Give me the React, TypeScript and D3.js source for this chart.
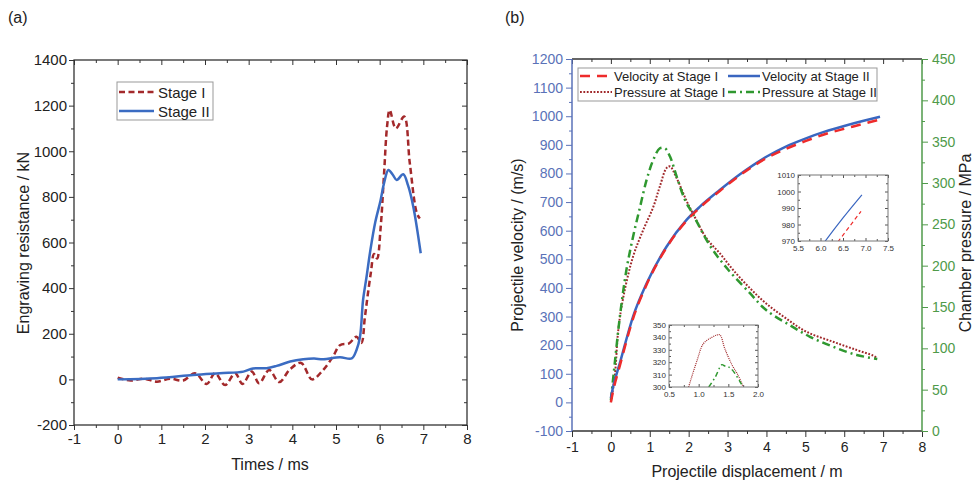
import { useEffect, useRef } from 'react';
import * as d3 from 'd3';

// (a) engraving resistance vs time
const stage1Time = [0, 0.3, 0.6, 0.9, 1.2, 1.5, 1.77, 2.04, 2.23, 2.46, 2.69, 2.86, 3.07, 3.24, 3.47, 3.7, 3.95, 4.2, 4.45, 4.7, 4.93, 5.09, 5.3, 5.47, 5.58, 5.66, 5.72, 5.8, 5.87, 5.94, 6.02, 6.1, 6.17, 6.23, 6.37, 6.56, 6.69, 6.85, 6.92];
const stage1Force = [7, -5, 3, -10, 3, -5, 27, -20, 27, -25, 27, -20, 34, -17, 41, -12, 45, 72, 0, 40, 100, 150, 158, 187, 160, 270, 360, 470, 550, 530, 660, 900, 1110, 1181, 1100, 1152, 948, 729, 705];
const stage2Time = [0, 0.9, 1.73, 2.34, 2.88, 3.1, 3.41, 3.64, 3.95, 4.25, 4.5, 4.71, 5.09, 5.36, 5.47, 5.55, 5.62, 5.7, 5.79, 5.9, 6.02, 6.1, 6.2, 6.3, 6.39, 6.54, 6.65, 6.77, 6.94];
const stage2Force = [0, 5, 19, 27, 34, 48, 49, 59, 78, 88, 91, 88, 97, 92, 129, 187, 348, 450, 570, 690, 784, 860, 918, 897, 874, 899, 850, 757, 553];

// (b) velocity and chamber pressure vs displacement
const vel1Disp = [0, 0.05, 0.23, 0.57, 0.92, 1.43, 1.94, 2.29, 2.8, 3.32, 4.02, 4.5, 5, 5.5, 6, 6.4, 6.9];
const vel1 = [0, 35, 128, 293, 412, 541, 634, 681, 739, 794, 855, 886, 913, 937, 956, 970, 988];
const vel2Disp = [0, 0.05, 0.23, 0.57, 0.92, 1.43, 1.94, 2.29, 2.8, 3.32, 4.02, 4.5, 5, 5.5, 6, 6.5, 6.92];
const vel2 = [15, 50, 137, 300, 416, 544, 637, 684, 742, 797, 860, 894, 922, 946, 966, 984, 998];
const pres1Disp = [0, 0.1, 0.19, 0.32, 0.57, 0.83, 1.09, 1.26, 1.43, 1.52, 1.69, 1.95, 2.1, 2.46, 2.8, 3.14, 3.57, 4.0, 4.51, 5.03, 5.71, 6.32, 6.75, 6.85];
const pres1 = [35, 66, 122, 162, 211, 243, 271, 296, 318, 320, 306, 278, 264, 233, 215, 195, 173, 154, 136, 120, 108, 98, 91, 88];
const pres2Disp = [0, 0.1, 0.23, 0.4, 0.57, 0.75, 0.92, 1.09, 1.26, 1.39, 1.52, 1.69, 1.9, 2.1, 2.55, 3.0, 3.57, 4.0, 4.6, 5.12, 5.71, 6.32, 6.85];
const pres2 = [37, 82, 138, 195, 235, 271, 304, 328, 342, 342, 332, 308, 280, 263, 224, 196, 167, 146, 128, 114, 102, 92, 87];

// pressure inset
const insetPres1Disp = [0.83, 0.97, 1.08, 1.22, 1.31, 1.36, 1.44, 1.56, 1.67, 1.75];
const insetPres1 = [300, 321, 335, 340, 342, 342, 331, 318, 309, 300];
const insetPres2Disp = [1.17, 1.28, 1.39, 1.44, 1.51, 1.58, 1.7, 1.75];
const insetPres2 = [300, 308, 318, 317, 316, 313, 304, 300];

const FONT = '"Liberation Sans", Arial, Helvetica, sans-serif';
const BLUE_AX = '#5a72b8';
const GREEN_AX = '#4f9a4a';

const zip = (xs: number[], ys: number[]) => xs.map((x, i) => [x, ys[i]] as [number, number]);
const steps = (a: number, b: number, s: number) => d3.range(a, b + s / 2, s).map(v => +v.toFixed(4));

type Orient = 'left' | 'right' | 'top' | 'bottom';
type AxisOpts = {
    pos: number; major: number[]; minor?: number[]; out: boolean;
    len?: number; mlen?: number; pad?: number; color?: string; textColor?: string;
    size?: number; fmt?: (d: number) => string; labels?: boolean;
};

function addAxis(g: any, scale: any, orient: Orient, o: AxisOpts) {
    const make = { left: d3.axisLeft, right: d3.axisRight, top: d3.axisTop, bottom: d3.axisBottom }[orient];
    const horiz = orient === 'top' || orient === 'bottom';
    const tr = horiz ? `translate(0,${o.pos})` : `translate(${o.pos},0)`;
    const sign = o.out ? 1 : -1;
    const color = o.color ?? '#333';
    if (o.minor) {
        const m = g.append('g').attr('transform', tr)
            .call(make(scale).tickValues(o.minor).tickSize(sign * (o.mlen ?? 3)).tickFormat(() => ''));
        m.select('.domain').remove();
        m.selectAll('line').attr('stroke', color);
    }
    const fmt = o.labels === false ? () => '' : (o.fmt ?? ((d: number) => String(d)));
    const a = g.append('g').attr('transform', tr)
        .call(make(scale).tickValues(o.major).tickSize(sign * (o.len ?? 5)).tickPadding(o.pad ?? 3).tickFormat(fmt as any));
    a.select('.domain').remove();
    a.selectAll('line').attr('stroke', color);
    a.selectAll('text')
        .attr('fill', o.textColor ?? '#222')
        .style('font-size', `${o.size ?? 14}px`)
        .style('font-family', FONT);
}

const App = () => {
    const svgRef = useRef<SVGSVGElement>(null);

    useEffect(() => {
        const svg = d3.select(svgRef.current);
        svg.selectAll('*').remove();
        const curve = d3.curveCatmullRom.alpha(0.5);

        // panel labels
        svg.append('text').attr('x', 8).attr('y', 23).text('(a)')
            .style('font-family', FONT).style('font-size', '16px').attr('fill', '#222');
        svg.append('text').attr('x', 505).attr('y', 23).text('(b)')
            .style('font-family', FONT).style('font-size', '16px').attr('fill', '#222');

        // ---------- (a) ----------
        const ga = svg.append('g');
        const xa = d3.scaleLinear().domain([-1, 8]).range([74, 467]);
        const ya = d3.scaleLinear().domain([-200, 1400]).range([425, 60]);

        const xMaj = steps(-1, 8, 1), xMin = steps(-0.5, 7.5, 1);
        const yaMaj = steps(-200, 1400, 200), yaMin = steps(-100, 1300, 200);
        addAxis(ga, xa, 'bottom', { pos: 425, major: xMaj, minor: xMin, out: true, pad: 3, size: 15 });
        addAxis(ga, ya, 'left', { pos: 74, major: yaMaj, minor: yaMin, out: true, pad: 2, size: 15 });
        addAxis(ga, xa, 'top', { pos: 60, major: xMaj, minor: xMin, out: false, labels: false });
        addAxis(ga, ya, 'right', { pos: 467, major: yaMaj, minor: yaMin, out: false, labels: false });
        ga.append('rect').attr('x', 74).attr('y', 60).attr('width', 393).attr('height', 365)
            .attr('fill', 'none').attr('stroke', '#333').attr('stroke-width', 1.3);

        const la = d3.line<[number, number]>().x(d => xa(d[0])).y(d => ya(d[1])).curve(curve);
        ga.append('path').attr('d', la(zip(stage1Time, stage1Force)))
            .attr('fill', 'none').attr('stroke', '#a3292b').attr('stroke-width', 2.5).attr('stroke-dasharray', '6,3.5');
        ga.append('path').attr('d', la(zip(stage2Time, stage2Force)))
            .attr('fill', 'none').attr('stroke', '#3b6cc2').attr('stroke-width', 2.5);

        // legend (a)
        ga.append('rect').attr('x', 117).attr('y', 82).attr('width', 96).attr('height', 38)
            .attr('fill', '#fff').attr('stroke', '#999').attr('stroke-width', 1);
        const legA = [
            { label: 'Stage I', color: '#a3292b', dash: '6,3.5', y: 92 },
            { label: 'Stage II', color: '#3b6cc2', dash: null, y: 111 },
        ];
        legA.forEach(d => {
            ga.append('line').attr('x1', 119).attr('x2', 154).attr('y1', d.y).attr('y2', d.y)
                .attr('stroke', d.color).attr('stroke-width', 2.5).attr('stroke-dasharray', d.dash);
            ga.append('text').attr('x', 158).attr('y', d.y + 5.5).text(d.label)
                .style('font-family', FONT).style('font-size', '15px').attr('fill', '#222');
        });

        ga.append('text').attr('transform', 'translate(29,243) rotate(-90)').attr('text-anchor', 'middle')
            .text('Engraving resistance / kN').style('font-family', FONT).style('font-size', '16px').attr('fill', '#222');
        ga.append('text').attr('x', 270).attr('y', 470).attr('text-anchor', 'middle')
            .text('Times / ms').style('font-family', FONT).style('font-size', '16px').attr('fill', '#222');

        // ---------- (b) ----------
        const gb = svg.append('g');
        const xb = d3.scaleLinear().domain([-1, 8]).range([572, 922]);
        const yv = d3.scaleLinear().domain([-100, 1200]).range([431, 59]);
        const yp = d3.scaleLinear().domain([0, 450]).range([431, 59]);

        addAxis(gb, xb, 'bottom', { pos: 431, major: xMaj, minor: xMin, out: true, len: 6, pad: 5, size: 14 });
        addAxis(gb, xb, 'top', { pos: 59, major: xMaj, minor: xMin, out: false, labels: false });
        addAxis(gb, yv, 'left', { pos: 572, major: steps(-100, 1200, 100), minor: steps(-50, 1150, 100), out: true, len: 6, pad: 3, size: 14, color: BLUE_AX, textColor: BLUE_AX });
        addAxis(gb, yp, 'right', { pos: 922, major: steps(0, 450, 50), minor: steps(25, 425, 50), out: true, len: 6, pad: 4, size: 14, color: GREEN_AX, textColor: GREEN_AX });

        gb.append('line').attr('x1', 572).attr('x2', 922).attr('y1', 59).attr('y2', 59).attr('stroke', '#333').attr('stroke-width', 1.3);
        gb.append('line').attr('x1', 572).attr('x2', 922).attr('y1', 431).attr('y2', 431).attr('stroke', '#333').attr('stroke-width', 1.3);
        gb.append('line').attr('x1', 572).attr('x2', 572).attr('y1', 59).attr('y2', 431).attr('stroke', BLUE_AX).attr('stroke-width', 1.5);
        gb.append('line').attr('x1', 922).attr('x2', 922).attr('y1', 59).attr('y2', 431).attr('stroke', GREEN_AX).attr('stroke-width', 1.5);

        const lv = d3.line<[number, number]>().x(d => xb(d[0])).y(d => yv(d[1])).curve(d3.curveMonotoneX);
        const lp = d3.line<[number, number]>().x(d => xb(d[0])).y(d => yp(d[1])).curve(curve);

        const seriesB = [
            { d: lp(zip(pres1Disp, pres1)), color: '#a0282a', w: 2, dash: '1.8,1.6' },
            { d: lp(zip(pres2Disp, pres2)), color: '#2f982f', w: 2.5, dash: '8,4,2,4' },
            { d: lv(zip(vel2Disp, vel2)), color: '#3a66c0', w: 2.5, dash: null },
            { d: lv(zip(vel1Disp, vel1)), color: '#ee2b2b', w: 2.5, dash: '10,7' },
        ];
        seriesB.forEach(s => {
            gb.append('path').attr('d', s.d).attr('fill', 'none').attr('stroke', s.color)
                .attr('stroke-width', s.w).attr('stroke-dasharray', s.dash);
        });

        // legend (b)
        gb.append('rect').attr('x', 578).attr('y', 68).attr('width', 299).attr('height', 33)
            .attr('fill', '#fff').attr('stroke', '#999').attr('stroke-width', 1);
        const legB = [
            { label: 'Velocity at Stage I', color: '#ee2b2b', dash: '10,7', w: 2.5, x: 580, y: 76 },
            { label: 'Velocity at Stage II', color: '#3a66c0', dash: null, w: 2.5, x: 728, y: 76 },
            { label: 'Pressure at Stage I', color: '#a0282a', dash: '1.8,1.6', w: 2, x: 580, y: 92 },
            { label: 'Pressure at Stage II', color: '#2f982f', dash: '8,4,2,4', w: 2.5, x: 728, y: 92 },
        ];
        legB.forEach(d => {
            gb.append('line').attr('x1', d.x).attr('x2', d.x + 32).attr('y1', d.y).attr('y2', d.y)
                .attr('stroke', d.color).attr('stroke-width', d.w).attr('stroke-dasharray', d.dash);
            gb.append('text').attr('x', d.x + 34).attr('y', d.y + 4.5).text(d.label)
                .style('font-family', FONT).style('font-size', '13px').attr('fill', '#222');
        });

        gb.append('text').attr('transform', 'translate(523,245) rotate(-90)').attr('text-anchor', 'middle')
            .text('Projectile velocity / (m/s)').style('font-family', FONT).style('font-size', '16px').attr('fill', '#222');
        gb.append('text').attr('transform', 'translate(971,243) rotate(-90)').attr('text-anchor', 'middle')
            .text('Chamber pressure / MPa').style('font-family', FONT).style('font-size', '16px').attr('fill', '#222');
        gb.append('text').attr('x', 747).attr('y', 477).attr('text-anchor', 'middle')
            .text('Projectile displacement / m').style('font-family', FONT).style('font-size', '16px').attr('fill', '#222');

        // ---------- insets ----------
        const drawInset = (id: string, xs: any, ys: any, xMajor: number[], xMinor: number[], yMajor: number[], yMinor: number[],
            xFmt: (d: number) => string, lines: { d: [number, number][]; color: string; w: number; dash: string | null }[]) => {
            const [x0, x1] = xs.range();
            const [y1, y0] = ys.range();
            const g = gb.append('g');
            g.append('rect').attr('x', x0).attr('y', y0).attr('width', x1 - x0).attr('height', y1 - y0).attr('fill', '#fff');
            g.append('clipPath').attr('id', id).append('rect')
                .attr('x', x0).attr('y', y0).attr('width', x1 - x0).attr('height', y1 - y0);
            const li = d3.line<[number, number]>().x(d => xs(d[0])).y(d => ys(d[1])).curve(curve);
            lines.forEach(l => {
                g.append('path').attr('d', li(l.d)).attr('clip-path', `url(#${id})`).attr('fill', 'none')
                    .attr('stroke', l.color).attr('stroke-width', l.w).attr('stroke-dasharray', l.dash);
            });
            const tc = '#555';
            addAxis(g, xs, 'bottom', { pos: y1, major: xMajor, minor: xMinor, out: false, len: 3, mlen: 2, pad: 4, size: 8, color: tc, textColor: '#333', fmt: xFmt });
            addAxis(g, ys, 'left', { pos: x0, major: yMajor, minor: yMinor, out: false, len: 3, mlen: 2, pad: 3, size: 8, color: tc, textColor: '#333' });
            addAxis(g, xs, 'top', { pos: y0, major: xMajor, minor: xMinor, out: false, len: 3, mlen: 2, labels: false, color: tc });
            addAxis(g, ys, 'right', { pos: x1, major: yMajor, minor: yMinor, out: false, len: 3, mlen: 2, labels: false, color: tc });
            g.append('rect').attr('x', x0).attr('y', y0).attr('width', x1 - x0).attr('height', y1 - y0)
                .attr('fill', 'none').attr('stroke', '#777').attr('stroke-width', 1);
        };

        const xi1 = d3.scaleLinear().domain([5.5, 7.5]).range([798, 888]);
        const yi1 = d3.scaleLinear().domain([970, 1010]).range([241, 175]);
        drawInset('clipVel', xi1, yi1, steps(5.5, 7.5, 0.5), steps(5.75, 7.25, 0.5), steps(970, 1010, 10), steps(975, 1005, 10),
            d3.format('.1f'), [
                { d: zip(vel2Disp, vel2), color: '#3a66c0', w: 1.2, dash: null },
                { d: zip(vel1Disp, vel1), color: '#ee2b2b', w: 1.2, dash: '4,3' },
            ]);

        const xi2 = d3.scaleLinear().domain([0.5, 2.0]).range([669, 758]);
        const yi2 = d3.scaleLinear().domain([300, 350]).range([387, 325]);
        drawInset('clipPres', xi2, yi2, steps(0.5, 2.0, 0.5), steps(0.75, 1.75, 0.5), steps(300, 350, 10), steps(305, 345, 10),
            d3.format('.1f'), [
                { d: zip(insetPres1Disp, insetPres1), color: '#a0282a', w: 1.2, dash: '1,1' },
                { d: zip(insetPres2Disp, insetPres2), color: '#2f982f', w: 1.5, dash: '5,3,1.5,3' },
            ]);
    }, []);

    return (
        <svg ref={svgRef} width={977} height={485}
            style={{ position: 'absolute', left: 0, top: 0, background: '#fff' }} />
    );
};

export default App;
